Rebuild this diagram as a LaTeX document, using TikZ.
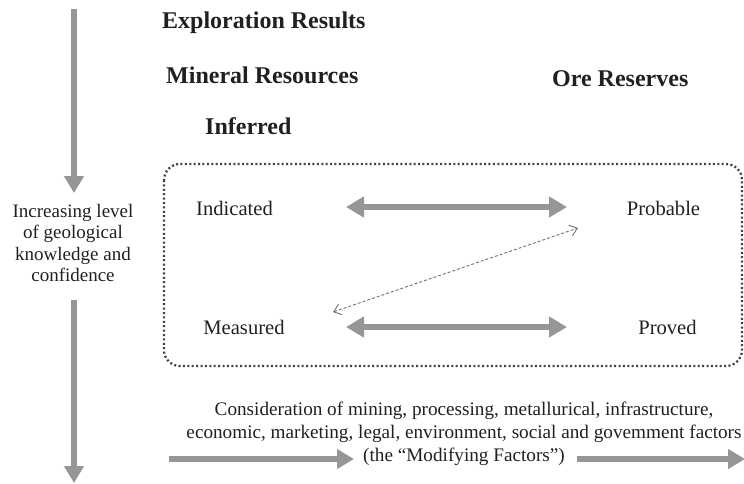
\documentclass[tikz,border=0pt]{standalone}
\usepackage{fontspec}
\setmainfont{Liberation Serif}
\usetikzlibrary{arrows.meta}
\definecolor{arrgray}{RGB}{150,150,152}
\definecolor{txt}{RGB}{35,31,32}
\begin{document}
\begin{tikzpicture}[x=1pt,y=-1pt,
  head/.style={font=\fontsize{24}{26}\selectfont\bfseries,text=txt,inner sep=0pt,anchor=west},
  lbl/.style={font=\fontsize{20.6}{22}\selectfont,text=txt,inner sep=0pt},
  fat/.style={draw=arrgray,line width=5.5pt,-{Triangle[width=19pt,length=17pt]}},
  fatboth/.style={draw=arrgray,line width=5.5pt,{Triangle[width=20pt,length=18pt]}-{Triangle[width=20pt,length=18pt]}},
  thin/.style={draw=arrgray!75!black,line width=0.9pt,dash pattern=on 3pt off 2pt,{Straight Barb[length=7pt,width=11pt]}-{Straight Barb[length=7pt,width=11pt]}}]
\useasboundingbox (0,0) rectangle (744,483);
% headings
\node[head] (expl) at (162,23) {Exploration Results};
\node[head] (minres) at (166,75) {Mineral Resources};
\node[head] (ore) at (552,79) {Ore Reserves};
\node[head] (inf) at (205,126) {Inferred};
% box
\draw[draw=txt!85,line width=2.3pt,dash pattern=on 2pt off 2.4pt,rounded corners=16pt] (164,164) rectangle (742,366);
% nodes
\node[lbl] (ind) at (234.5,208) {Indicated};
\node[lbl] (prob) at (663.5,208) {Probable};
\node[lbl] (meas) at (244,327) {Measured};
\node[lbl] (prov) at (667.5,327) {Proved};
% arrows
\coordinate (a1) at (346,207); \coordinate (a2) at (567,207);
\coordinate (b1) at (346,327); \coordinate (b2) at (567,327);
\draw[fatboth] (a1) -- (a2);
\draw[fatboth] (b1) -- (b2);
\coordinate (d1) at (333,312); \coordinate (d2) at (578,228);
\draw[thin] (d1) -- (d2);
% left
\node[lbl,font=\fontsize{19}{21.5}\selectfont,align=center] (conf) at (73,243) {Increasing level\\of geological\\knowledge and\\confidence};
\coordinate (v1) at (74,9); \coordinate (v2) at (74,193);
\coordinate (v3) at (74,300); \coordinate (v4) at (74,483);
\draw[fat] (v1) -- (v2);
\draw[fat] (v3) -- (v4);
% bottom
\node[lbl,font=\fontsize{19.2}{23}\selectfont,align=center] (mod) at (464,434) {Consideration of mining, processing, metallurical, infrastructure,\\economic, marketing, legal, environment, social and govemment factors\\(the ``Modifying Factors'')};
\coordinate (h1) at (169,459); \coordinate (h2) at (354,459);
\coordinate (h3) at (577,459); \coordinate (h4) at (745,459);
\draw[fat] (h1) -- (h2);
\draw[fat] (h3) -- (h4);
\end{tikzpicture}
\end{document}
